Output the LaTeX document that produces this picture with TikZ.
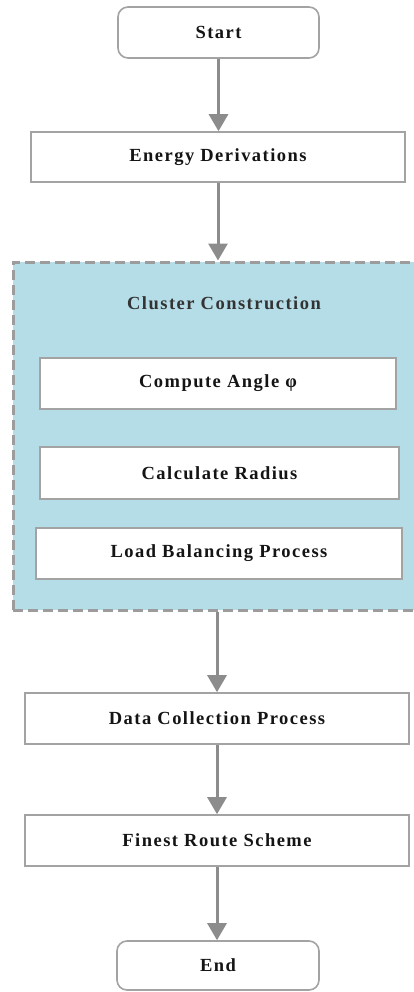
\documentclass[tikz,border=0pt]{standalone}
\usepackage{fontspec}
\setmainfont{Liberation Serif}[LetterSpace=8]
\usetikzlibrary{arrows.meta}

\definecolor{boxline}{HTML}{A3A3A3}
\definecolor{arrowgray}{HTML}{8C8C8C}
\definecolor{clusterfill}{HTML}{B5DDE8}
\definecolor{dashgray}{HTML}{9C9C9C}
\definecolor{titlegray}{HTML}{333333}

\tikzset{
  stepbox/.style={draw=boxline, line width=1.6pt, fill=white, inner sep=0pt,
    font=\fontsize{18.5}{22}\selectfont\bfseries, text=black!92},
  termbox/.style={stepbox, rounded corners=10pt},
  clusterbox/.style={draw=dashgray, fill=clusterfill, line width=3pt,
    dash pattern=on 10pt off 5pt, inner sep=0pt},
  flow/.style={draw=arrowgray, line width=3pt,
    -{Triangle[length=17pt,width=19pt]}},
}

\begin{document}
\begin{tikzpicture}[x=1pt,y=-1pt]
  \useasboundingbox (0,0) rectangle (413,992);

  % cluster container, drawn first so it sits underneath
  \node[clusterbox, minimum width=422pt, minimum height=348pt] (cluster) at (224,436) {};
  \node[font=\fontsize{18.5}{22}\selectfont\bfseries, text=titlegray] (ctitle) at (224,303) {Cluster Construction};

  \node[termbox, minimum width=201pt, minimum height=51pt] (start) at (218.5,32.5) {Start};
  \node[stepbox, minimum width=374pt, minimum height=50pt] (energy) at (218,157) {Energy Derivations};

  \node[stepbox, minimum width=356pt, minimum height=51pt] (angle) at (218,383.5) {Compute Angle φ};
  \node[stepbox, minimum width=359pt, minimum height=52pt] (radius) at (219.5,473) {Calculate Radius};
  \node[stepbox, minimum width=366pt, minimum height=51pt] (load) at (219,553.5) {Load Balancing Process};

  \node[stepbox, minimum width=384pt, minimum height=51pt] (data) at (217,718.5) {Data Collection Process};
  \node[stepbox, minimum width=384pt, minimum height=51pt] (route) at (217,840.5) {Finest Route Scheme};
  \node[termbox, minimum width=202pt, minimum height=49pt] (end) at (218,965.5) {End};

  % connectors
  \draw[flow] (start.south) -- (start.south |- energy.north);
  \draw[flow] (energy.south) -- (energy.south |- cluster.north);
  \draw[flow] (data.north |- cluster.south) -- (data.north);
  \draw[flow] (data.south) -- (route.north);
  \draw[flow] (route.south) -- (route.south |- end.north);
\end{tikzpicture}
\end{document}
